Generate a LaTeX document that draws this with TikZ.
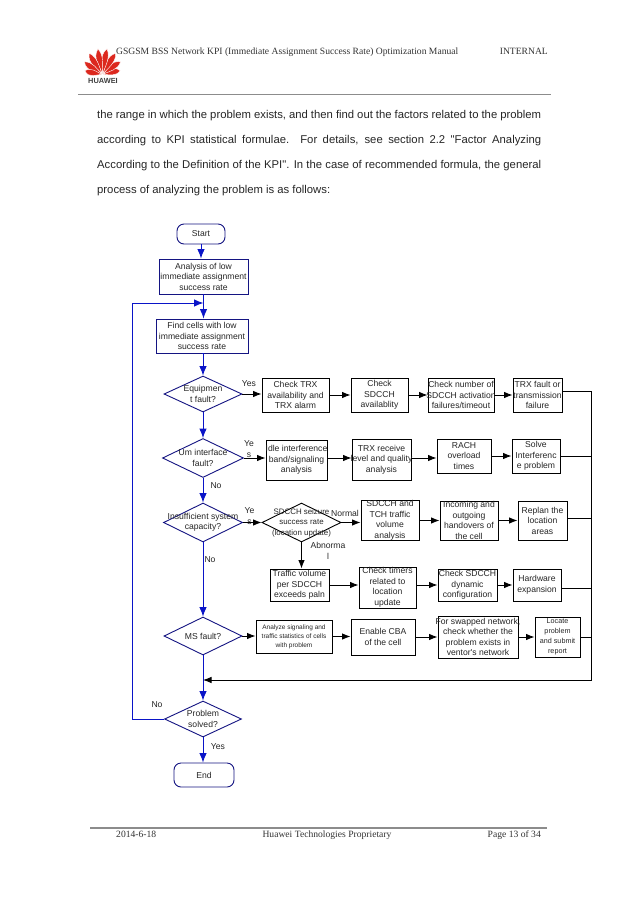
\documentclass[tikz,border=0pt]{standalone}
\usepackage{fontspec}
\setmainfont{Liberation Serif}
\newfontfamily\flowfont{Liberation Sans}
\usetikzlibrary{arrows.meta, shapes.geometric}
\definecolor{navy}{RGB}{20,20,130}
\definecolor{trunkblue}{RGB}{10,20,200}
\definecolor{logored}{RGB}{220,40,30}
\newcommand{\ol}[1]{\makebox[0pt]{#1}}

\begin{document}
\begin{tikzpicture}[x=1pt, y=-1pt,
	txt/.style={inner sep=0pt, align=center, text=black!85, font=\flowfont\fontsize{8.6}{10.5}\selectfont},
	b/.style={txt, draw, line width=.9pt},
	n/.style={b, draw=navy},
	d/.style={b, diamond, draw=navy},
	dk/.style={b, diamond},
	t/.style={n, rounded corners=7pt},
	side/.style={line width=.9pt, -{Latex[length=8.5pt, width=6.5pt]}},
	plain/.style={line width=.9pt},
	main/.style={line width=.9pt, draw=trunkblue, -{Latex[length=9.5pt, width=7.5pt]}, },
	body/.style={inner sep=0pt, anchor=base west, font=\flowfont\fontsize{11.3}{13}\selectfont, text=black!85},
	head/.style={inner sep=0pt, anchor=base west, font=\fontsize{9.6}{11}\selectfont, text=black!80}]
	\useasboundingbox (0,0) rectangle (638,903);
	\fill[white] (0,0) rectangle (638,903);

	% page header
	\foreach \ang/\len in {-78/18, -55/22, -32/25, -10/26, 10/26, 32/25, 55/22, 78/18}
		\fill[logored, draw=white, line width=.4pt, shift={(102.5,74.5)}, rotate=\ang] (0,-1) .. controls (-1.5,-.35*\len) and (-7,-.7*\len) .. (0,-\len) .. controls (5,-.7*\len) and (1.5,-.35*\len) .. (0,-1);
	\node[inner sep=0pt, font=\flowfont\bfseries\fontsize{7.4}{8}\selectfont, text=black!75] (logo_label) at (103,80.5) {HUAWEI};
	\node[head] (head_title) at (116,54) {GSGSM BSS Network KPI (Immediate Assignment Success Rate) Optimization Manual};
	\node[head, anchor=base east] (head_class) at (548,54) {INTERNAL};
	\draw[black!45, line width=1pt] (78,94) -- (551,94);

	% page text
	\node[body] (line_a) at (97,118) {\makebox[444pt][s]{the range in which the problem exists, and then find out the factors related to the problem}};
	\node[body] (line_b) at (97,143) {\makebox[444pt][s]{according to KPI statistical formulae. For details, see section 2.2 "Factor Analyzing}};
	\node[body] (line_c) at (97,168) {\makebox[444pt][s]{According to the Definition of the KPI". In the case of recommended formula, the general}};
	\node[body] (line_d) at (97,193) {process of analyzing the problem is as follows:};

	% main column
	\node[t, minimum width=48pt, minimum height=20pt] (start) at (201,234) {Start};
	\node[n, minimum width=89pt, minimum height=35pt] (analysis) at (203.5,276.5) {Analysis of low\\\ol{immediate assignment}\\success rate};
	\node[n, minimum width=92pt, minimum height=34pt] (find) at (202,336) {Find cells with low\\\ol{immediate assignment}\\success rate};
	\node[d, minimum width=78pt, minimum height=36pt] (equip) at (203,394) {\ol{Equipmen}\\\ol{t fault?}};
	\node[d, minimum width=81pt, minimum height=39pt] (um) at (203,458) {\ol{Um interface}\\\ol{fault?}};
	\node[d, minimum width=79pt, minimum height=39pt] (capacity) at (203,522.5) {\ol{Insufficient system}\\\ol{capacity?}};
	\node[d, minimum width=78pt, minimum height=38pt] (ms) at (203,636) {\ol{MS fault?}};
	\node[d, minimum width=77pt, minimum height=36pt] (solved) at (203,719) {\ol{Problem}\\\ol{solved?}};
	\node[t, minimum width=60pt, minimum height=24pt] (end) at (204,775) {End};

	% first row
	\node[b, minimum width=67pt, minimum height=34pt] (trx) at (295.5,395) {Check TRX\\availability and\\TRX alarm};
	\node[b, minimum width=57pt, minimum height=34pt] (sd) at (379.5,395) {Check\\SDCCH\\availablity};
	\node[b, minimum width=66pt, minimum height=34pt] (num) at (461,395) {\ol{Check number of}\\\ol{SDCCH activation}\\\ol{failures/timeout}};
	\node[b, minimum width=49pt, minimum height=34pt] (fault) at (537.5,395) {\ol{TRX fault or}\\\ol{transmission}\\failure};

	% second row
	\node[b, minimum width=61pt, minimum height=40pt] (idle) at (296.5,460) {\ol{Idle interference}\\band/signaling\\analysis};
	\node[b, minimum width=59pt, minimum height=41pt] (rx) at (381.5,459.5) {TRX receive\\\ol{level and quality}\\analysis};
	\node[b, minimum width=54pt, minimum height=34pt] (rach) at (464,456) {RACH\\overload\\times};
	\node[b, minimum width=48pt, minimum height=34pt] (solve) at (536,456) {Solve\\\ol{Interferenc}\\e problem};

	% third row
	\node[dk, minimum width=79pt, minimum height=39pt, font=\flowfont\fontsize{7.9}{10.5}\selectfont] (seizure) at (301.5,522.5) {\ol{SDCCH seizure}\\\ol{success rate}\\\ol{(location update)}};
	\node[b, minimum width=58pt, minimum height=39pt] (tch) at (390,520.5) {\ol{SDCCH and}\\TCH traffic\\volume\\analysis};
	\node[b, minimum width=58pt, minimum height=39pt] (ho) at (469,520.5) {\ol{Incoming and}\\outgoing\\\ol{handovers of}\\the cell};
	\node[b, minimum width=49pt, minimum height=39pt] (replan) at (542.5,520.5) {Replan the\\location\\areas};

	% fourth row
	\node[b, minimum width=59pt, minimum height=32pt] (volume) at (299.5,585) {\ol{Traffic volume}\\per SDCCH\\exceeds paln};
	\node[b, minimum width=57pt, minimum height=41pt] (timers) at (387.5,587.5) {\ol{Check timers}\\related to\\location\\update};
	\node[b, minimum width=59pt, minimum height=32pt] (dyn) at (467.5,585) {\ol{Check SDCCH}\\dynamic\\configuration};
	\node[b, minimum width=48pt, minimum height=32pt] (hw) at (537,585) {Hardware\\expansion};

	% fifth row
	\node[b, minimum width=76pt, minimum height=33pt, font=\flowfont\fontsize{6.5}{9}\selectfont] (signal) at (294,636.5) {\ol{Analyze signaling and}\\\ol{traffic statistics of cells}\\with problem};
	\node[b, minimum width=64pt, minimum height=36pt] (cba) at (383,637) {Enable CBA\\of the cell};
	\node[b, minimum width=80pt, minimum height=42pt] (swap) at (478,637) {\ol{For swapped network,}\\\ol{check whether the}\\\ol{problem exists in}\\\ol{ventor's network}};
	\node[b, minimum width=45pt, minimum height=40pt, font=\flowfont\fontsize{7.2}{10}\selectfont] (report) at (557.5,637) {Locate\\problem\\\ol{and submit}\\report};

	% branch labels
	\node[txt] (yes_a) at (249,384) {Yes};
	\node[txt] (yes_b) at (249,449) {Ye\\s};
	\node[txt] (no_a) at (216,486) {No};
	\node[txt] (yes_c) at (249.5,516) {Ye\\s};
	\node[txt] (no_b) at (210,560) {No};
	\node[txt] (normal) at (345,513) {Normal};
	\node[txt] (abnormal) at (328,551) {Abnorma\\l};
	\node[txt] (no_c) at (157,705) {No};
	\node[txt] (yes_d) at (218,747) {Yes};

	\coordinate (bus_top) at (591,391);
	\coordinate (bus_end) at (591,680);
	\coordinate (loop_top) at (132,303);

	\draw[main] (start.south) -- (start.south |- analysis.north);
	\draw[main] (analysis.south) -- (analysis.south |- find.north);
	\draw[main] (find.south) -- (find.south -| equip.north) -- (equip.north);
	\draw[main] (equip.south) -- (um.north);
	\draw[main] (um.south) -- (capacity.north);
	\draw[main] (capacity.south) -- (ms.north);
	\draw[main] (ms.south) -- (solved.north);
	\draw[main] (solved.south) -- (solved.south |- end.north);
	\draw[main] (solved.west) -| (loop_top) -- (loop_top -| analysis.south);

	\draw[side] (equip.east) -- (trx.west |- equip.east);
	\draw[side] (trx.east) -- (sd.west);
	\draw[side] (sd.east) -- (num.west);
	\draw[side] (num.east) -- (fault.west);
	\draw[side] (um.east) -- (idle.west |- um.east);
	\draw[side] (idle.east |- um.east) -- (rx.west |- um.east);
	\draw[side] (rx.east |- um.east) -- (rach.west |- um.east);
	\draw[side] (rach.east) -- (solve.west);
	\draw[side] (capacity.east) -- (seizure.west);
	\draw[side] (seizure.east) -- (tch.west |- seizure.east);
	\draw[side] (tch.east) -- (ho.west);
	\draw[side] (ho.east) -- (replan.west);
	\draw[side] (seizure.south) -- (seizure.south |- volume.north);
	\draw[side] (volume.east) -- (timers.west |- volume.east);
	\draw[side] (timers.east |- volume.east) -- (dyn.west);
	\draw[side] (dyn.east) -- (hw.west);
	\draw[side] (ms.east) -- (signal.west |- ms.east);
	\draw[side] (signal.east) -- (cba.west |- signal.east);
	\draw[side] (cba.east) -- (swap.west);
	\draw[side] (swap.east) -- (report.west);

	\draw[plain] (fault.east |- bus_top) -- (bus_top);
	\draw[plain] (solve.east) -- (solve.east -| bus_top);
	\draw[plain] ([yshift=2pt]replan.east) -- ([yshift=2pt]replan.east -| bus_top);
	\draw[plain] ([yshift=-3pt]hw.east) -- ([yshift=-3pt]hw.east -| bus_top);
	\draw[plain] (report.east) -- (report.east -| bus_top);
	\draw[side] (bus_top) -- (bus_end) -- (bus_end -| solved.north);

	% page footer
	\draw[black!45, line width=1.3pt] (90,828) -- (547,828);
	\node[head] (foot_date) at (116,837.5) {2014-6-18};
	\node[head, anchor=base] (foot_name) at (327,837.5) {Huawei Technologies Proprietary};
	\node[head, anchor=base east] (foot_page) at (541,837.5) {Page 13 of 34};
\end{tikzpicture}
\end{document}
